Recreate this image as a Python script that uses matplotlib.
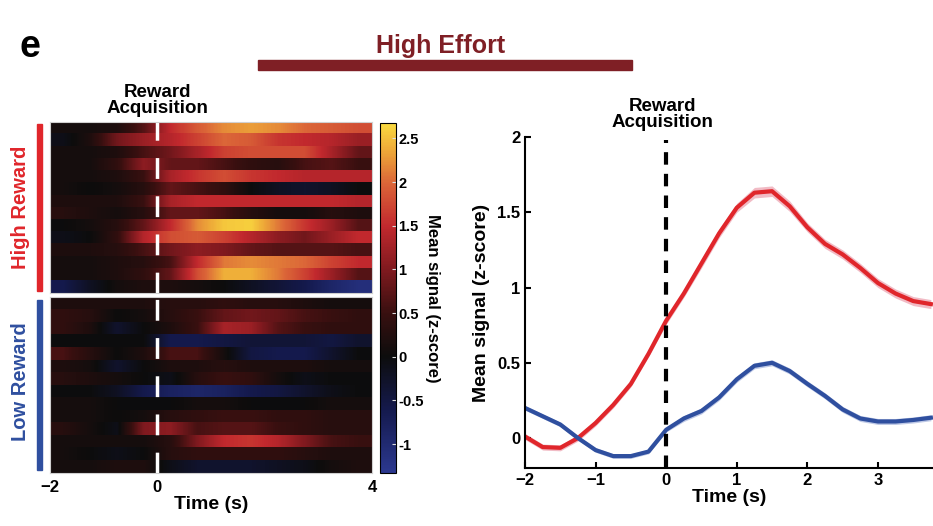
#!/usr/bin/env python3
# High Effort: reward acquisition heatmap + mean signal traces

import numpy as np
import matplotlib.pyplot as plt
from matplotlib.colors import LinearSegmentedColormap
from matplotlib.patches import Rectangle

plt.rcParams['font.family'] = ['Liberation Sans', 'DejaVu Sans']
plt.rcParams['font.weight'] = 'bold'

# heatmap bins (s), one value per 0.5 s bin from -2 to 4
bin_edges = [-2, 4]
high_reward_rows = [
    [0.1, 0.1, 0.2, 0.7, 1.5, 1.9, 2.2, 2.3, 2.2, 2.0, 1.9, 1.8],
    [-0.1, 0.2, 0.9, 1.2, 1.4, 1.7, 2.0, 1.9, 1.6, 1.5, 1.4, 1.2],
    [0.1, 0.1, 0.2, 0.6, 0.9, 1.3, 1.7, 1.8, 1.8, 1.8, 1.3, 0.8],
    [0.1, 0.1, 0.4, 1.1, 0.8, 0.8, 0.6, 0.4, 0.3, 0.6, 0.7, 0.5],
    [0.1, 0.1, 0.2, 0.5, 1.3, 1.6, 1.8, 1.6, 1.5, 1.4, 1.4, 1.4],
    [0.1, 0.0, 0.1, 0.3, 0.8, 0.6, 0.4, 0.0, -0.2, -0.3, -0.2, 0.0],
    [0.2, 0.2, 0.2, 0.5, 1.3, 1.5, 1.5, 1.5, 1.5, 1.5, 1.5, 1.4],
    [0.3, 0.2, 0.1, 0.3, 0.8, 0.8, 0.6, 0.3, 0.1, 0.1, 0.3, 0.2],
    [0.0, 0.1, 0.3, 0.8, 1.5, 2.2, 2.55, 2.6, 2.1, 1.6, 1.2, 0.7],
    [-0.1, 0.0, 0.4, 1.4, 1.8, 1.9, 1.7, 1.4, 1.1, 0.9, 1.2, 1.5],
    [0.2, 0.2, 0.3, 0.6, 0.9, 1.1, 1.0, 0.8, 0.7, 0.7, 0.7, 0.6],
    [0.1, 0.1, 0.2, 0.3, 0.6, 1.5, 2.1, 2.2, 2.1, 2.0, 1.7, 1.5],
    [0.1, 0.1, 0.2, 0.4, 0.8, 1.8, 2.4, 2.4, 2.1, 1.7, 1.2, 0.7],
    [-0.6, -0.2, 0.1, 0.2, 0.2, 0.1, 0.0, -0.2, -0.4, -0.6, -0.9, -1.1],
]
low_reward_rows = [
    [0.2, 0.2, 0.2, 0.2, 0.3, 0.3, 0.4, 0.3, 0.3, 0.2, 0.1, 0.1],
    [0.4, 0.3, 0.0, 0.1, 0.3, 0.5, 0.8, 0.9, 0.8, 0.6, 0.5, 0.4],
    [0.4, 0.2, -0.3, 0.0, 0.2, 0.5, 1.3, 1.2, 0.7, 0.5, 0.4, 0.4],
    [0.0, 0.0, 0.0, 0.0, -0.6, -0.6, -0.5, -0.4, -0.4, -0.4, -0.5, -0.3],
    [0.6, 0.3, 0.0, 0.2, 0.6, 0.6, 0.1, -0.5, -0.6, -0.6, -0.3, 0.0],
    [0.2, 0.1, -0.3, 0.0, 0.2, 0.2, 0.3, 0.2, 0.2, 0.2, 0.1, 0.1],
    [0.3, 0.2, 0.1, 0.0, -0.1, 0.3, 0.5, 0.4, 0.1, -0.1, 0.0, 0.0],
    [0.0, 0.0, -0.2, -0.6, -0.8, -0.9, -0.8, -0.6, -0.5, -0.3, -0.1, 0.0],
    [0.1, 0.1, 0.0, 0.0, 0.0, 0.1, 0.1, 0.0, 0.0, 0.0, 0.1, 0.1],
    [0.1, 0.1, 0.0, 0.1, 0.3, 0.4, 0.5, 0.5, 0.4, 0.4, 0.3, 0.3],
    [0.3, 0.1, -0.1, 1.0, 1.1, 0.6, 0.7, 0.7, 0.5, 0.4, 0.3, 0.3],
    [0.1, 0.1, 0.1, 0.1, 0.3, 1.0, 1.5, 1.6, 1.4, 1.0, 0.6, 0.5],
    [0.1, 0.0, -0.1, 0.0, 0.3, 0.4, 0.4, 0.4, 0.4, 0.3, 0.2, 0.2],
    [0.1, 0.1, 0.2, 0.2, -0.1, -0.3, -0.3, -0.3, -0.2, -0.1, 0.1, 0.2],
]

# mean traces
time_s = [-2.0, -1.75, -1.5, -1.25, -1.0, -0.75, -0.5, -0.25, 0.0, 0.25, 0.5, 0.75,
          1.0, 1.25, 1.5, 1.75, 2.0, 2.25, 2.5, 2.75, 3.0, 3.25, 3.5, 3.75]
high_mean = [0.01, -0.06, -0.065, 0.0, 0.10, 0.22, 0.36, 0.56, 0.78, 0.96, 1.16, 1.36,
             1.53, 1.63, 1.64, 1.54, 1.40, 1.29, 1.22, 1.13, 1.03, 0.96, 0.91, 0.89]
high_sem = [0.02, 0.02, 0.02, 0.02, 0.02, 0.02, 0.02, 0.02, 0.025, 0.025, 0.03, 0.03,
            0.03, 0.035, 0.035, 0.035, 0.03, 0.03, 0.03, 0.03, 0.03, 0.03, 0.03, 0.03]
low_mean = [0.20, 0.145, 0.09, 0.0, -0.08, -0.12, -0.12, -0.09, 0.055, 0.13, 0.18, 0.27,
            0.39, 0.48, 0.50, 0.445, 0.36, 0.28, 0.19, 0.13, 0.11, 0.11, 0.12, 0.135]
low_sem = [0.015, 0.015, 0.015, 0.015, 0.015, 0.015, 0.015, 0.015, 0.015, 0.02, 0.02, 0.02,
           0.02, 0.02, 0.02, 0.02, 0.02, 0.02, 0.02, 0.02, 0.02, 0.02, 0.02, 0.02]

vmin, vmax = -1.33, 2.68
cmap = LinearSegmentedColormap.from_list("bk_hot", [
    (0.0, (0.17, 0.22, 0.56)),
    (0.18, (0.08, 0.10, 0.30)),
    (0.332, (0.05, 0.05, 0.05)),
    (0.456, (0.22, 0.06, 0.06)),
    (0.581, (0.50, 0.10, 0.12)),
    (0.706, (0.76, 0.16, 0.18)),
    (0.830, (0.86, 0.40, 0.22)),
    (0.918, (0.93, 0.65, 0.22)),
    (1.0, (0.98, 0.86, 0.25)),
])

RED = "#e0262b"
BLUE = "#2f4f9f"
DARKRED = "#7f1f25"

fig = plt.figure(figsize=(9.33, 5.26), dpi=100)

def draw_heat(ax, rows):
    n = len(rows)
    for k, r in enumerate(rows):
        ax.imshow(np.array([r]), extent=(bin_edges[0], bin_edges[1], n - 1 - k, n - k),
                  cmap=cmap, vmin=vmin, vmax=vmax, aspect='auto', interpolation='bilinear')
    ax.set_xlim(bin_edges)
    ax.set_ylim(0, n)
    ax.axvline(0, color='white', lw=2.5, dashes=(6, 5))
    ax.set_yticks([])
    for s in ax.spines.values():
        s.set_color('#d0d0d0')
        s.set_linewidth(0.8)

ax_hi = fig.add_axes([0.0536, 0.443, 0.3451, 0.325])
ax_lo = fig.add_axes([0.0536, 0.1008, 0.3451, 0.3342])
draw_heat(ax_hi, high_reward_rows)
draw_heat(ax_lo, low_reward_rows)
ax_hi.set_xticks([])
ax_lo.set_xticks([-2, 0, 4])
ax_lo.tick_params(axis='x', length=0, labelsize=12, pad=5)
ax_lo.set_xlabel("Time (s)", fontsize=14, fontweight='bold', labelpad=1)

ax_hi.text(0, 1.03, "Reward\nAcquisition", transform=ax_hi.get_xaxis_transform(),
           ha='center', va='bottom', fontsize=13.5, fontweight='bold', linespacing=0.9)

# colorbar
cax = fig.add_axes([0.407, 0.1008, 0.0171, 0.666])
sm = plt.cm.ScalarMappable(cmap=cmap, norm=plt.Normalize(vmin, vmax))
cb = fig.colorbar(sm, cax=cax)
cb.set_ticks([-1, -0.5, 0, 0.5, 1, 1.5, 2, 2.5])
cb.set_ticklabels(['-1', '-0.5', '0', '0.5', '1', '1.5', '2', '2.5'])
cb.ax.tick_params(direction='in', length=3, color='#dddddd', labelsize=10.5, pad=2)
cb.outline.set_linewidth(0.8)
cb.set_label("Mean signal (z-score)", rotation=270, fontsize=12, fontweight='bold')
cb.ax.yaxis.set_label_coords(3.75, 0.5)

# group bars and labels
fig.patches.append(Rectangle((0.040, 1 - 291 / 526), 0.0055, 167 / 526,
                             transform=fig.transFigure, color=RED, figure=fig))
fig.patches.append(Rectangle((0.040, 1 - 470 / 526), 0.0055, 170 / 526,
                             transform=fig.transFigure, color=BLUE, figure=fig))
fig.text(0.022, 1 - 207 / 526, "High Reward", rotation=90, ha='center', va='center',
         color=RED, fontsize=14.5, fontweight='bold')
fig.text(0.022, 1 - 382 / 526, "Low Reward", rotation=90, ha='center', va='center',
         color=BLUE, fontsize=14.5, fontweight='bold')

# header
fig.text(0.032, 1 - 47 / 526, "e", ha='center', va='center', fontsize=27, fontweight='bold')
fig.text(0.472, 1 - 46 / 526, "High Effort", ha='center', va='center', color=DARKRED,
         fontsize=18, fontweight='bold')
fig.patches.append(Rectangle((258 / 933, 1 - 70 / 526), 374 / 933, 10 / 526,
                             transform=fig.transFigure, color=DARKRED, figure=fig))

# traces
ax = fig.add_axes([0.5627, 0.110, 0.4373, 0.6295])
t = np.array(time_s)
for m, s, c, fc in [(high_mean, high_sem, RED, "#f0b4bf"), (low_mean, low_sem, BLUE, "#b8c4e4")]:
    m = np.array(m); s = np.array(s)
    ax.fill_between(t, m - s, m + s, color=fc, lw=0, alpha=0.9)
    ax.plot(t, m, color=c, lw=3)
ax.plot([0, 0], [-0.2, 1.98], color='black', lw=3, dashes=(3, 2.2))
ax.set_xlim(-2, 3.78)
ax.set_ylim(-0.2, 2)
ax.set_xticks([-2, -1, 0, 1, 2, 3])
ax.set_yticks([0, 0.5, 1, 1.5, 2])
ax.set_yticklabels(['0', '0.5', '1', '1.5', '2'])
ax.tick_params(direction='in', length=4, width=1.5, labelsize=12)
ax.spines['top'].set_visible(False)
ax.spines['right'].set_visible(False)
ax.spines['left'].set_linewidth(1.5)
ax.spines['bottom'].set_linewidth(1.5)
ax.set_xlabel("Time (s)", fontsize=14, fontweight='bold', labelpad=1)
ax.set_ylabel("Mean signal (z-score)", fontsize=14, fontweight='bold', labelpad=5)
ax.text(-0.05, 2.04, "Reward\nAcquisition", ha='center', va='bottom', fontsize=13.5,
        fontweight='bold', linespacing=0.9)

fig.savefig("out.png", dpi=100)
print("saved out.png")
